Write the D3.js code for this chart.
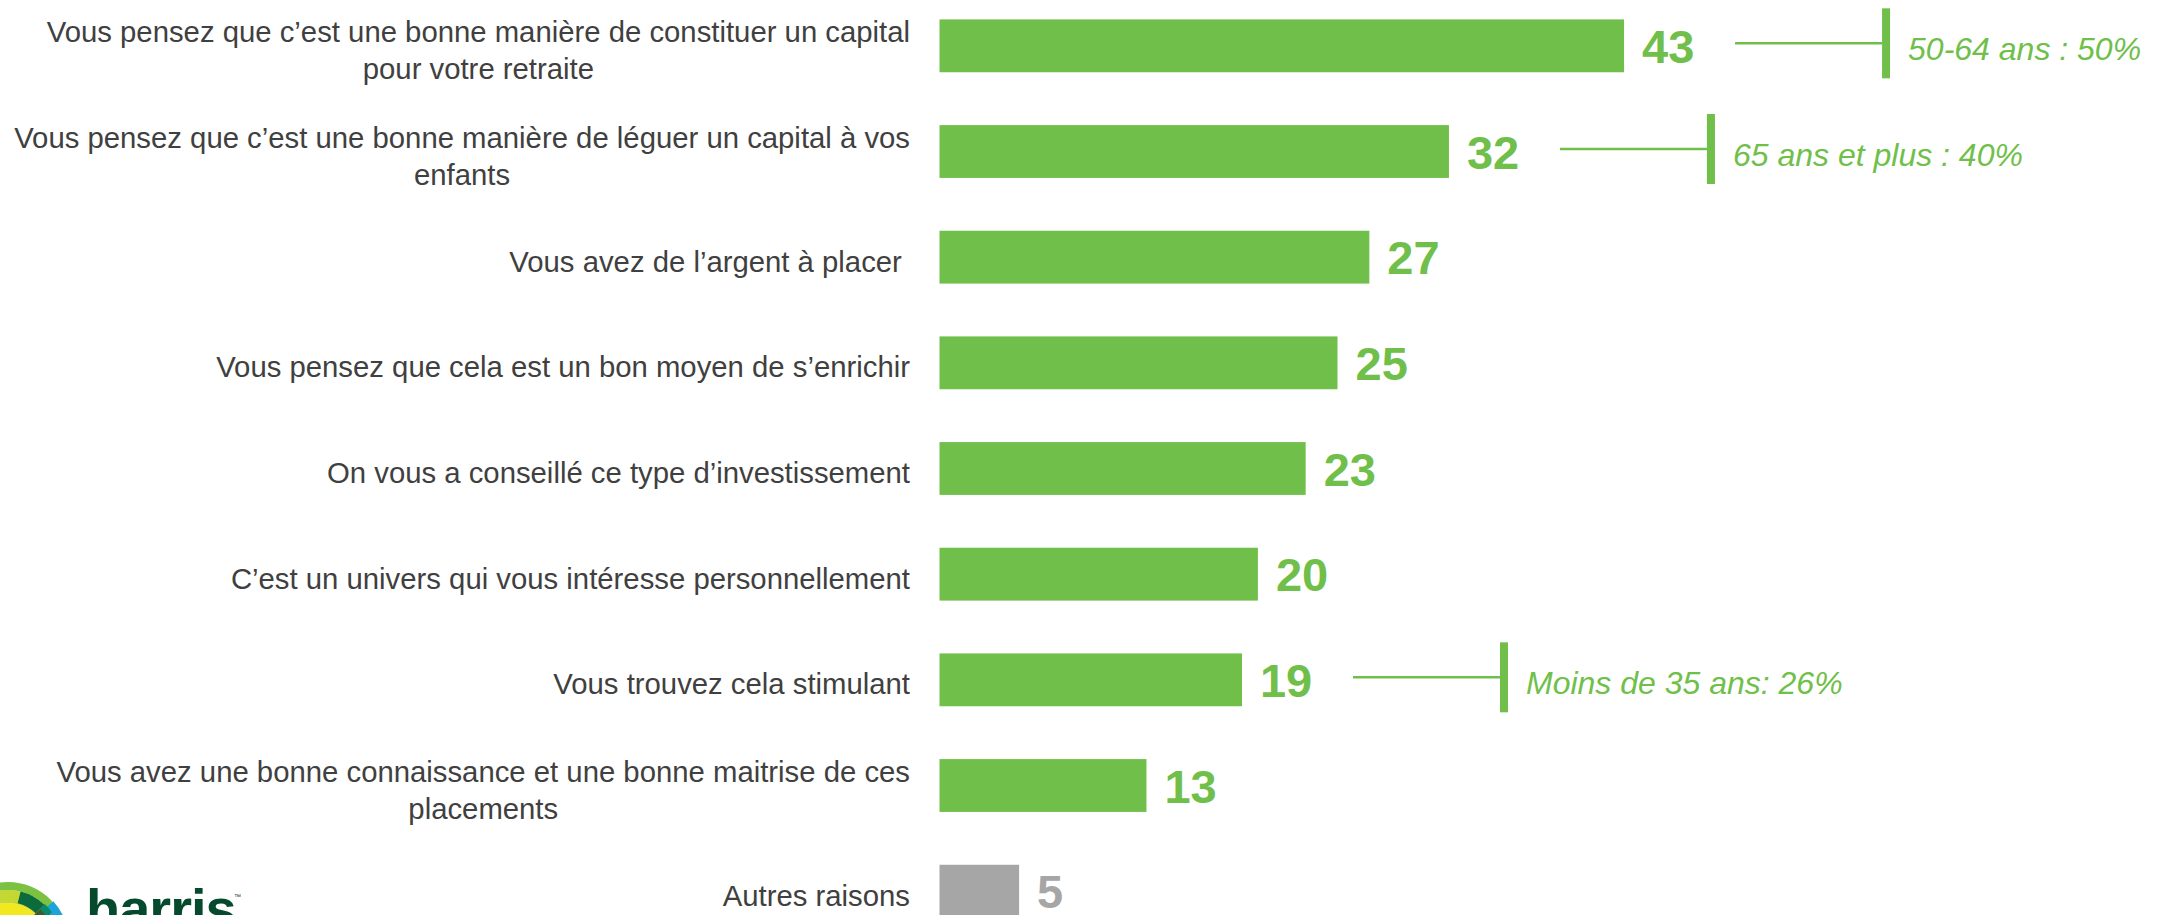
<!DOCTYPE html>
<html lang="fr">
<head>
<meta charset="utf-8">
<title>Raisons d'investir</title>
<script src="https://cdn.jsdelivr.net/npm/d3@7"></script>
<style>
    html, body { margin: 0; padding: 0; background: #ffffff; }
    svg { display: block; font-family: "Liberation Sans", Arial, sans-serif; }
</style>
</head>
<body>
<div id="chart"></div>
<script>
// Reasons (one row per bar), top to bottom
const categories = [
    "Vous pensez que c’est une bonne manière de constituer un capital\npour votre retraite",
    "Vous pensez que c’est une bonne manière de léguer un capital à vos\nenfants",
    "Vous avez de l’argent à placer ",
    "Vous pensez que cela est un bon moyen de s’enrichir",
    "On vous a conseillé ce type d’investissement",
    "C’est un univers qui vous intéresse personnellement",
    "Vous trouvez cela stimulant",
    "Vous avez une bonne connaissance et une bonne maitrise de ces\nplacements",
    "Autres raisons"
];

// % of respondents
const values = [43, 32, 27, 25, 23, 20, 19, 13, 5];

// Sub-group callouts: index of the row they belong to, and their text
const calloutRows = [0, 1, 6];
const calloutTexts = ["50-64 ans : 50%", "65 ans et plus : 40%", "Moins de 35 ans: 26%"];

const otherCategory = "Autres raisons";

// Colours
const GREEN = "#70bf4a";
const GREY = "#a6a6a6";
const TEXT = "#404040";

const width = 2157, height = 915;

const svg = d3.select("#chart")
    .append("svg")
    .attr("width", width)
    .attr("height", height);

const x = d3.scaleLinear()
    .domain([0, 50])
    .range([939.5, 1735.5]);

const y = d3.scaleBand()
    .domain(categories)
    .range([-7, 944])
    .paddingInner(0.5)
    .paddingOuter(0.25);

const rows = categories.map((c, i) => ({ cat: c, value: values[i], lines: c.split("\n") }));
const cy = d => y(d.cat) + y.bandwidth() / 2;
const colorOf = d => d.cat === otherCategory ? GREY : GREEN;

// Bars
svg.append("g")
    .selectAll("rect")
    .data(rows)
    .join("rect")
    .attr("x", x(0))
    .attr("y", d => y(d.cat))
    .attr("width", d => x(d.value) - x(0))
    .attr("height", y.bandwidth())
    .attr("fill", colorOf);

// Category labels (right block edge at 910, multi-line centred inside the block)
const labelRight = 910;
const labelSize = 29.3;
const lineH = 37;

const labels = svg.append("g")
    .selectAll("text")
    .data(rows)
    .join("text")
    .attr("font-size", labelSize)
    .attr("fill", TEXT)
    .attr("text-anchor", "middle")
    .style("white-space", "pre");

labels.each(function(d) {
    const t = d3.select(this);
    const spans = t.selectAll("tspan")
        .data(d.lines)
        .join("tspan")
        .text(s => s);
    let maxW = 0;
    spans.each(function() { maxW = Math.max(maxW, this.getComputedTextLength()); });
    const n = d.lines.length;
    spans
        .attr("x", labelRight - maxW / 2)
        .attr("y", (s, k) => cy(d) + (k - (n - 1) / 2) * lineH + labelSize * 0.5);
});

// Value labels
svg.append("g")
    .selectAll("text")
    .data(rows)
    .join("text")
    .attr("x", d => x(d.value) + 18)
    .attr("y", d => cy(d) + 17)
    .attr("font-size", 47)
    .attr("font-weight", "bold")
    .attr("fill", colorOf)
    .text(d => d.value);

// Callouts: connector line, vertical tick, italic text
const callouts = calloutRows.map((r, i) => ({ row: rows[r], text: calloutTexts[i] }));
const cg = svg.append("g").selectAll("g")
    .data(callouts)
    .join("g")
    .attr("transform", d => `translate(${x(d.row.value) + 111},${cy(d.row) - 2.5})`);

cg.append("line")
    .attr("x1", 0)
    .attr("x2", 147)
    .attr("stroke", GREEN)
    .attr("stroke-width", 2.5);

cg.append("rect")
    .attr("x", 147)
    .attr("y", -35)
    .attr("width", 8)
    .attr("height", 70)
    .attr("fill", GREEN);

cg.append("text")
    .attr("x", 173)
    .attr("y", 17)
    .attr("font-size", 32)
    .attr("font-style", "italic")
    .attr("fill", GREEN)
    .text(d => d.text);

// Harris Interactive logo, cut by the bottom edge
const logo = svg.append("g").attr("transform", "translate(8,942)");
const arc = d3.arc();
const deg = Math.PI / 180;
const logoParts = [
    { inner: 0, outer: 39, a0: 0, a1: 360, color: "#f1e820" },
    { inner: 39, outer: 52, a0: 0, a1: 360, color: "#c5d733" },
    { inner: 52, outer: 60, a0: 0, a1: 360, color: "#7cc242" },
    { inner: 40, outer: 52, a0: 14, a1: 44, color: "#0c6b3c" },
    { inner: 36, outer: 52, a0: 44, a1: 62, color: "#3f5b2c" },
    { inner: 50, outer: 61, a0: 48, a1: 72, color: "#1ea3d8" },
    { inner: 46, outer: 53, a0: 44, a1: 56, color: "#0a8a6a" }
];
logo.selectAll("path")
    .data(logoParts)
    .join("path")
    .attr("d", p => arc({ innerRadius: p.inner, outerRadius: p.outer, startAngle: p.a0 * deg, endAngle: p.a1 * deg }))
    .attr("fill", p => p.color);

svg.append("text")
    .attr("x", 86)
    .attr("y", 928)
    .attr("font-size", 56)
    .attr("font-weight", "bold")
    .attr("fill", "#064a2e")
    .attr("letter-spacing", -1)
    .text("harris");

svg.append("text")
    .attr("x", 234)
    .attr("y", 899)
    .attr("font-size", 7)
    .attr("fill", "#064a2e")
    .text("™");
</script>
</body>
</html>
